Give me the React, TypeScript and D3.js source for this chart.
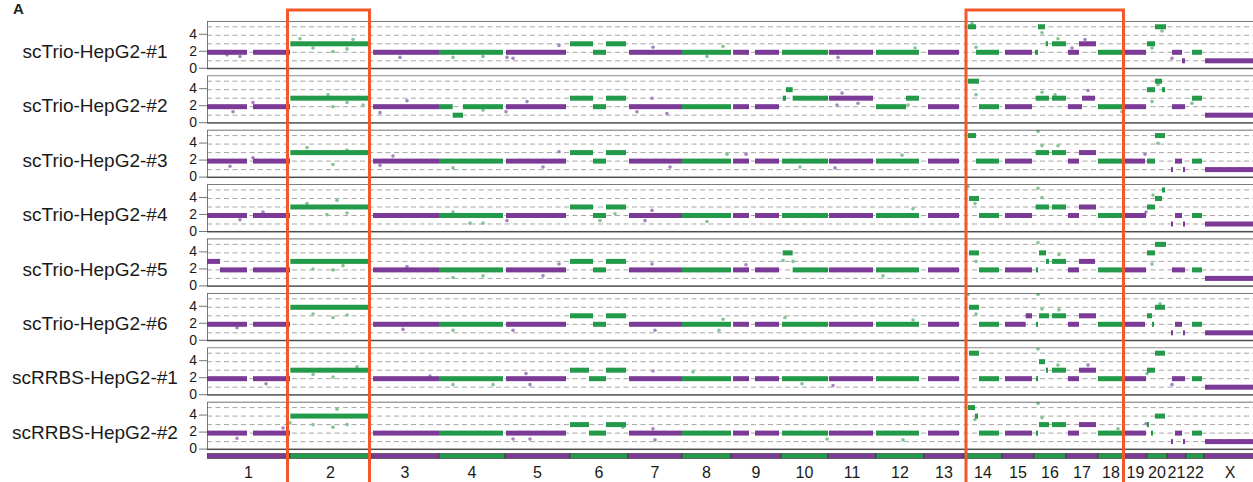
import React from "react";
import * as d3 from "d3";

type Seg = [string, number, number, number]; // chrom, start Mb, end Mb, copy number
type Pt = [string, number, number]; // chrom, position Mb, copy number

const CHROMS = ["1", "2", "3", "4", "5", "6", "7", "8", "9", "10", "11", "12", "13", "14", "15", "16", "17", "18", "19", "20", "21", "22", "X"];
const CHROM_MB = [249, 243, 204, 198, 195, 174, 162, 147, 150, 141, 144, 144, 120, 114, 96, 96, 96, 78, 69, 60, 57, 54, 156];

const SAMPLES = [
  "scTrio-HepG2-#1", "scTrio-HepG2-#2", "scTrio-HepG2-#3", "scTrio-HepG2-#4",
  "scTrio-HepG2-#5", "scTrio-HepG2-#6", "scRRBS-HepG2-#1", "scRRBS-HepG2-#2",
];
const Y_TICKS = [0, 2, 4];
const GRID_LEVELS = [1, 2, 3, 4, 5];
const BOXED = [["2", "2"], ["14", "18"]];

// segments
const trio1Seg: Seg[] = [
  ["1", 0, 120, 2], ["1", 138, 249, 2], ["2", 1, 237, 3], ["3", 6, 204, 2], ["4", 0, 192, 2], ["5", 3, 183, 2],
  ["6", 0, 69, 3], ["6", 69, 108, 2], ["6", 108, 168, 3], ["7", 3, 162, 2], ["8", 0, 147, 2],
  ["9", 6, 54, 2], ["9", 72, 144, 2], ["10", 3, 141, 2], ["11", 3, 135, 2], ["12", 0, 129, 2], ["13", 12, 105, 2],
  ["14", 12, 36, 5], ["14", 36, 105, 2], ["15", 9, 90, 2],
  ["16", 3, 12, 2], ["16", 12, 33, 5], ["16", 35, 42, 3], ["16", 54, 96, 3],
  ["17", 6, 39, 2], ["17", 39, 90, 3], ["18", 0, 78, 2], ["19", 3, 66, 2],
  ["20", 0, 24, 3], ["20", 24, 57, 5], ["21", 15, 45, 2], ["21", 45, 54, 1], ["22", 18, 48, 2], ["X", 3, 156, 1],
];
const trio2Seg: Seg[] = [
  ["1", 0, 120, 2], ["1", 138, 249, 2], ["2", 1, 237, 3], ["3", 6, 204, 2],
  ["4", 0, 41, 2], ["4", 41, 72, 1], ["4", 72, 192, 2], ["5", 3, 183, 2],
  ["6", 0, 69, 3], ["6", 69, 108, 2], ["6", 108, 168, 3], ["7", 3, 162, 2], ["8", 0, 147, 2],
  ["9", 6, 54, 2], ["9", 72, 144, 2], ["10", 5, 15, 3], ["10", 15, 35, 4], ["10", 35, 141, 3],
  ["11", 3, 135, 3], ["12", 0, 90, 2], ["12", 90, 129, 3], ["13", 12, 105, 2],
  ["14", 12, 45, 5], ["14", 45, 105, 2], ["15", 9, 90, 2], ["16", 5, 45, 3], ["16", 54, 96, 3],
  ["17", 6, 48, 2], ["17", 48, 87, 3], ["18", 0, 78, 2], ["19", 3, 66, 2],
  ["20", 0, 24, 4], ["20", 24, 45, 5], ["20", 45, 54, 4], ["21", 15, 54, 2], ["22", 18, 48, 3], ["X", 3, 156, 1],
];
const trio3Seg: Seg[] = [
  ["1", 0, 120, 2], ["1", 138, 249, 2], ["2", 1, 237, 3], ["3", 6, 204, 2], ["4", 0, 192, 2], ["5", 3, 183, 2],
  ["6", 0, 69, 3], ["6", 69, 108, 2], ["6", 108, 168, 3], ["7", 3, 162, 2], ["8", 0, 147, 2],
  ["9", 6, 54, 2], ["9", 72, 144, 2], ["10", 3, 141, 2], ["11", 3, 135, 2], ["12", 0, 129, 2], ["13", 12, 105, 2],
  ["14", 12, 36, 5], ["14", 36, 105, 2], ["15", 9, 90, 2], ["16", 5, 45, 3], ["16", 54, 96, 3],
  ["17", 6, 39, 2], ["17", 39, 90, 3], ["18", 0, 78, 2], ["19", 3, 63, 2],
  ["20", 0, 24, 2], ["20", 24, 54, 5], ["21", 12, 18, 1], ["21", 24, 45, 2], ["21", 48, 54, 1],
  ["22", 18, 48, 2], ["X", 3, 156, 1],
];
const trio4Seg: Seg[] = [
  ["1", 0, 120, 2], ["1", 138, 249, 2], ["2", 1, 237, 3], ["3", 6, 204, 2], ["4", 0, 192, 2], ["5", 3, 183, 2],
  ["6", 0, 69, 3], ["6", 69, 108, 2], ["6", 108, 168, 3], ["7", 3, 162, 2], ["8", 0, 147, 2],
  ["9", 6, 54, 2], ["9", 72, 144, 2], ["10", 3, 141, 2], ["11", 3, 135, 2], ["12", 0, 129, 2], ["13", 12, 105, 2],
  ["14", 15, 45, 4], ["14", 45, 105, 2], ["15", 9, 90, 2], ["16", 5, 45, 3], ["16", 54, 96, 3],
  ["17", 6, 39, 2], ["17", 39, 90, 3], ["18", 0, 78, 2], ["19", 3, 66, 2],
  ["20", 0, 24, 3], ["20", 24, 45, 4], ["20", 45, 54, 5], ["21", 12, 18, 1], ["21", 24, 45, 2], ["21", 48, 54, 1],
  ["22", 18, 48, 2], ["X", 3, 156, 1],
];
const trio5Seg: Seg[] = [
  ["1", 0, 39, 3], ["1", 39, 120, 2], ["1", 138, 249, 2], ["2", 1, 237, 3], ["3", 6, 204, 2], ["4", 0, 192, 2], ["5", 3, 183, 2],
  ["6", 0, 69, 3], ["6", 69, 108, 2], ["6", 108, 168, 3], ["7", 3, 162, 2], ["8", 0, 147, 2],
  ["9", 6, 54, 2], ["9", 72, 144, 2], ["10", 5, 35, 4], ["10", 35, 141, 2], ["11", 3, 135, 2], ["12", 0, 129, 2], ["13", 12, 105, 2],
  ["14", 15, 45, 4], ["14", 45, 105, 2], ["15", 9, 90, 2],
  ["16", 6, 12, 2], ["16", 15, 36, 4], ["16", 36, 45, 3], ["16", 54, 96, 3],
  ["17", 6, 39, 2], ["17", 39, 87, 3], ["18", 0, 78, 2], ["19", 3, 66, 2],
  ["20", 0, 24, 4], ["20", 24, 57, 5], ["21", 15, 54, 2], ["22", 18, 48, 2], ["X", 3, 156, 1],
];
const trio6Seg: Seg[] = [
  ["1", 0, 120, 2], ["1", 138, 249, 2], ["2", 1, 237, 4], ["3", 6, 204, 2], ["4", 0, 192, 2], ["5", 3, 183, 2],
  ["6", 0, 69, 3], ["6", 69, 108, 2], ["6", 108, 168, 3], ["7", 3, 162, 2], ["8", 0, 147, 2],
  ["9", 6, 54, 2], ["9", 72, 144, 2], ["10", 3, 141, 2], ["11", 3, 135, 2], ["12", 0, 129, 2], ["13", 12, 105, 2],
  ["14", 15, 45, 4], ["14", 45, 105, 2], ["15", 9, 71, 2], ["15", 71, 90, 3],
  ["16", 6, 12, 2], ["16", 15, 45, 3], ["16", 54, 96, 3],
  ["17", 6, 39, 2], ["17", 39, 90, 3], ["18", 0, 78, 2], ["19", 3, 63, 2],
  ["20", 0, 15, 3], ["20", 15, 21, 2], ["20", 24, 54, 4], ["21", 12, 18, 1], ["21", 24, 45, 2], ["21", 48, 54, 1],
  ["22", 18, 48, 2], ["X", 3, 156, 1],
];
const rrbs1Seg: Seg[] = [
  ["1", 0, 120, 2], ["1", 138, 249, 2], ["2", 1, 237, 3], ["3", 6, 204, 2], ["4", 0, 192, 2], ["5", 3, 183, 2],
  ["6", 0, 57, 3], ["6", 57, 108, 2], ["6", 108, 168, 3], ["7", 3, 162, 2], ["8", 0, 147, 2],
  ["9", 6, 54, 2], ["9", 72, 144, 2], ["10", 3, 141, 2], ["11", 3, 135, 2], ["12", 0, 129, 2], ["13", 12, 105, 2],
  ["14", 15, 45, 5], ["14", 45, 105, 2], ["15", 9, 90, 2],
  ["16", 6, 12, 2], ["16", 15, 33, 4], ["16", 36, 42, 3], ["16", 54, 96, 3],
  ["17", 6, 39, 2], ["17", 39, 90, 3], ["18", 0, 78, 2], ["19", 3, 66, 2],
  ["20", 0, 24, 3], ["20", 24, 54, 5], ["21", 15, 54, 2], ["22", 18, 48, 2], ["X", 3, 156, 1],
];
const rrbs2Seg: Seg[] = [
  ["1", 0, 120, 2], ["1", 138, 249, 2], ["2", 1, 237, 4], ["3", 6, 204, 2], ["4", 0, 192, 2], ["5", 3, 183, 2],
  ["6", 0, 57, 3], ["6", 57, 108, 2], ["6", 108, 168, 3], ["7", 3, 162, 2], ["8", 0, 147, 2],
  ["9", 6, 54, 2], ["9", 72, 144, 2], ["10", 3, 141, 2], ["11", 3, 135, 2], ["12", 0, 129, 2], ["13", 12, 105, 2],
  ["14", 12, 33, 5], ["14", 33, 42, 4], ["14", 45, 105, 2], ["15", 9, 90, 2],
  ["16", 6, 12, 2], ["16", 15, 45, 3], ["16", 54, 96, 3],
  ["17", 6, 39, 2], ["17", 39, 90, 3], ["18", 0, 78, 2], ["19", 3, 66, 2],
  ["20", 0, 6, 3], ["20", 12, 18, 2], ["20", 24, 54, 4], ["21", 12, 18, 1], ["21", 24, 45, 2], ["21", 48, 54, 1],
  ["22", 18, 48, 2], ["X", 3, 156, 1],
];

// scattered bins off the segments
const trio1Pts: Pt[] = [
  ["1", 99, 1.5], ["1", 60, 1.7], ["2", 30, 3.6], ["2", 129, 2.1], ["2", 69, 2.5], ["2", 189, 3.5], ["2", 171, 2.4],
  ["3", 87, 1.4], ["4", 42, 1.4], ["4", 132, 1.5], ["5", 6, 1.4], ["5", 24, 1.3], ["5", 162, 2.8],
  ["7", 75, 2.6], ["8", 123, 2.7], ["8", 75, 1.5], ["11", 30, 1.4], ["12", 117, 2.5],
  ["14", 24, 5.4], ["14", 36, 2.6], ["16", 24, 4.3], ["16", 72, 3.6], ["17", 18, 2.5], ["17", 57, 3.5],
  ["20", 15, 2.5], ["20", 45, 4.5], ["21", 15, 1.3],
];
const trio2Pts: Pt[] = [
  ["1", 138, 2.5], ["1", 78, 1.4], ["2", 114, 3.4], ["2", 129, 2.0], ["2", 171, 2.5], ["2", 219, 2.2],
  ["3", 108, 2.7], ["3", 27, 1.3], ["4", 132, 1.6], ["5", 66, 2.6], ["5", 3, 1.4],
  ["7", 72, 3.0], ["7", 117, 1.2], ["7", 27, 1.4], ["11", 27, 2.2], ["11", 90, 2.4], ["11", 42, 3.6], ["12", 96, 2.2],
  ["14", 36, 3.4], ["16", 24, 3.7], ["16", 63, 3.4], ["17", 66, 3.9], ["18", 72, 1.4],
  ["20", 15, 2.6], ["20", 33, 4.6], ["22", 18, 2.4],
];
const trio3Pts: Pt[] = [
  ["1", 69, 1.4], ["1", 138, 2.4], ["2", 51, 3.6], ["2", 129, 1.6], ["2", 171, 3.3],
  ["3", 66, 2.6], ["3", 27, 1.5], ["4", 42, 1.2], ["5", 162, 3.1], ["5", 114, 1.3],
  ["7", 126, 1.3], ["8", 135, 2.8], ["9", 45, 2.8], ["10", 57, 1.3], ["11", 21, 1.2], ["12", 78, 2.7],
  ["16", 12, 5.5], ["16", 24, 3.8], ["16", 72, 3.8], ["20", 33, 4.1], ["19", 63, 2.8],
];
const trio4Pts: Pt[] = [
  ["1", 168, 2.4], ["1", 99, 1.5], ["2", 51, 3.4], ["2", 141, 3.8], ["2", 111, 2.1], ["2", 171, 2.3],
  ["4", 93, 1.1], ["4", 132, 1.1], ["4", 42, 2.4], ["5", 6, 1.4], ["6", 90, 1.4], ["6", 135, 2.2],
  ["7", 72, 2.6], ["7", 51, 1.4], ["8", 75, 1.3], ["12", 111, 2.8],
  ["14", 12, 5.4], ["14", 33, 3.4], ["16", 12, 5.2], ["16", 24, 4.1], ["20", 18, 4.4], ["19", 66, 2.4],
];
const trio5Pts: Pt[] = [
  ["2", 69, 2.1], ["2", 129, 2.0], ["2", 159, 2.5], ["3", 108, 2.4], ["4", 42, 1.1], ["4", 132, 1.3],
  ["5", 162, 2.7], ["5", 114, 1.3], ["7", 72, 2.7], ["9", 45, 2.6], ["10", 6, 3.1], ["10", 36, 3.0],
  ["12", 21, 1.3], ["16", 12, 5.2], ["16", 75, 3.8], ["20", 15, 2.7], ["14", 36, 3.0],
];
const trio6Pts: Pt[] = [
  ["2", 69, 3.2], ["2", 129, 2.8], ["2", 171, 3.1], ["3", 96, 1.4], ["4", 42, 1.3], ["5", 24, 1.3], ["1", 90, 1.6],
  ["7", 81, 1.3], ["8", 111, 1.3], ["8", 123, 2.6], ["10", 12, 2.8], ["12", 111, 2.5],
  ["14", 12, 5.5], ["14", 36, 3.2], ["16", 12, 5.5], ["16", 24, 3.8], ["16", 75, 3.7], ["20", 39, 4.4],
];
const rrbs1Pts: Pt[] = [
  ["1", 177, 1.4], ["2", 201, 3.4], ["2", 129, 2.2], ["2", 69, 2.5], ["3", 177, 2.3],
  ["4", 42, 1.3], ["4", 162, 1.3], ["5", 63, 2.6], ["5", 75, 1.3], ["7", 75, 2.9], ["8", 33, 2.8],
  ["10", 63, 1.4], ["11", 15, 1.2], ["16", 12, 5.5], ["16", 72, 3.6], ["17", 66, 3.6], ["20", 0, 2.6], ["21", 15, 1.3],
];
const rrbs2Pts: Pt[] = [
  ["1", 228, 2.6], ["1", 90, 1.4], ["2", 141, 4.8], ["2", 69, 3.0], ["2", 129, 2.7], ["2", 171, 3.0], ["2", 0, 3.2],
  ["5", 24, 1.3], ["5", 75, 1.3], ["6", 159, 2.7], ["7", 75, 2.5], ["7", 81, 1.2], ["10", 138, 1.3], ["12", 81, 1.2],
  ["14", 33, 3.6], ["16", 12, 5.5], ["16", 24, 3.8], ["18", 60, 2.5], ["19", 66, 3.1],
];

const SEGMENTS = [trio1Seg, trio2Seg, trio3Seg, trio4Seg, trio5Seg, trio6Seg, rrbs1Seg, rrbs2Seg];
const SCATTER = [trio1Pts, trio2Pts, trio3Pts, trio4Pts, trio5Pts, trio6Pts, rrbs1Pts, rrbs2Pts];

const W = 1253;
const H = 482;
const LEFT = 207;
const PANEL_TOP = 21;
const PANEL_STEP = 54.4;
const PANEL_H = 47.5;

const PURPLE = "#7b3a96";
const GREEN = "#23994a";
const PURPLE_LT = "#a883c2";
const GREEN_LT = "#83c493";
const RED = "#f2582a";
const FONT = "'Liberation Sans', Arial, sans-serif";

export default function App() {
  const total = d3.sum(CHROM_MB);
  const ends = d3.cumsum(CHROM_MB);
  const starts = CHROM_MB.map((d, i) => ends[i] - d);
  const idx = (c: string) => CHROMS.indexOf(c);

  const x = d3.scaleLinear().domain([0, total]).range([LEFT, LEFT + total / 3]);
  const gx = (c: string, pos: number) => x(starts[idx(c)] + pos);
  const y = d3.scaleLinear().domain([0, 5.68]).range([48.3, 0]);
  const dark = (c: string) => (idx(c) % 2 === 0 ? PURPLE : GREEN);
  const light = (c: string) => (idx(c) % 2 === 0 ? PURPLE_LT : GREEN_LT);

  return (
    <div style={{ position: "absolute", left: 0, top: 0 }}>
      <svg width={W} height={H} style={{ display: "block", background: "#fff", fontFamily: FONT }}>
        <defs>
          <clipPath id="plotClip">
            <rect x={LEFT} y={0} width={W - LEFT} height={H} />
          </clipPath>
        </defs>
        <text x={13} y={14} fontSize={15} fontWeight="bold" fill="#222">A</text>

        {SAMPLES.map((name, i) => {
          const top = PANEL_TOP + i * PANEL_STEP;
          return (
            <g key={name} transform={`translate(0,${top})`}>
              <text x={95} y={37} fontSize={19} textAnchor="middle" fill="#1a1a1a">{name}</text>
              {Y_TICKS.map((t) => (
                <g key={t}>
                  <text x={197} y={y(t) - 1.5} dy="0.35em" fontSize={14} textAnchor="end" fill="#1a1a1a">{t}</text>
                  <line x1={199} x2={LEFT} y1={y(t) - 1} y2={y(t) - 1} stroke="#555" strokeWidth={0.8} />
                </g>
              ))}
              <g clipPath="url(#plotClip)">
                {GRID_LEVELS.map((v) => (
                  <line key={v} x1={LEFT} x2={W + 5} y1={y(v)} y2={y(v)} stroke="#9c9c9c" strokeWidth={0.9} strokeDasharray="5,3.5" />
                ))}
                {SCATTER[i].map(([c, p, v], k) => (
                  <circle key={k} cx={gx(c, p)} cy={y(v)} r={1.8} fill={light(c)} />
                ))}
                {SEGMENTS[i].map(([c, s, e, v], k) => (
                  <rect key={k} x={gx(c, s)} y={y(v) - 2.5} width={Math.max(1.5, gx(c, e) - gx(c, s))} height={5} fill={dark(c)} />
                ))}
                <rect x={LEFT} y={0} width={W + 10 - LEFT} height={PANEL_H} fill="none" stroke="#4d4d4d" strokeWidth={1.5} />
              </g>
            </g>
          );
        })}

        <g clipPath="url(#plotClip)">
          {CHROMS.map((c, i) => (
            <rect key={c} x={x(starts[i])} y={453.5} width={x(ends[i]) - x(starts[i])} height={5} fill={dark(c)} stroke="#333" strokeWidth={0.6} />
          ))}
        </g>
        {CHROMS.map((c, i) => (
          <text key={c} x={(x(starts[i]) + x(ends[i])) / 2} y={478} fontSize={16} textAnchor="middle" fill="#1a1a1a">{c}</text>
        ))}

        {BOXED.map(([a, b]) => {
          const x0 = x(starts[idx(a)]) + (a === "2" ? -2.5 : 2);
          const x1 = x(ends[idx(b)]) - (a === "2" ? 1.5 : 0.5);
          return (
            <rect key={a} x={x0} y={10} width={x1 - x0} height={H + 20} fill="none" stroke={RED} strokeWidth={3} />
          );
        })}
      </svg>
    </div>
  );
}
